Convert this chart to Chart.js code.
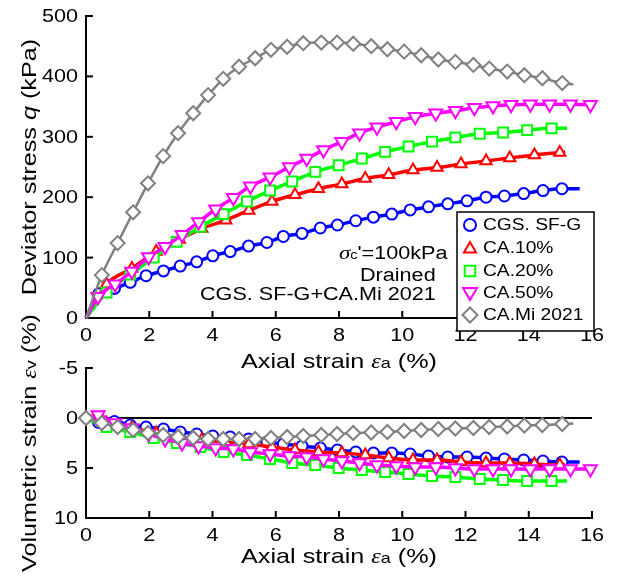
<!DOCTYPE html>
<html>
<head>
<meta charset="utf-8">
<script src="https://cdn.jsdelivr.net/npm/chart.js@4.4.1/dist/chart.umd.min.js"></script>
<style>
  html, body { margin: 0; background: #fff; }
  #wrap { position: relative; width: 617px; height: 577px; }
  canvas { position: absolute; left: 0; top: 0; }
</style>
</head>
<body>
<div id="wrap">
  <canvas id="qChart" width="617" height="577"></canvas>
  <canvas id="evChart" width="617" height="577"></canvas>
</div>
<script>
// Axial strain (%) at each marker, deviator stress q (kPa) and volumetric strain (%)
const cgsStrain = [0, 0.4, 0.9, 1.4, 1.9, 2.45, 2.98, 3.5, 4.01, 4.56, 5.14, 5.72, 6.24, 6.83, 7.41, 7.95, 8.53, 9.09, 9.67, 10.25, 10.83, 11.44, 12.05, 12.65, 13.23, 13.84, 14.45, 15.05, 15.61];
const cgsQ = [0, 40, 49, 59, 70, 78, 86, 93, 103, 110, 119, 125, 135, 140, 149, 154, 161, 167, 172, 179, 184, 189, 194, 200, 202, 206, 211, 214, 214];
const cgsEv = [0, 0.45, 0.35, 0.7, 0.9, 1.1, 1.4, 1.6, 1.8, 1.9, 2.1, 2.4, 2.6, 2.8, 3.0, 3.2, 3.4, 3.5, 3.5, 3.6, 3.8, 3.9, 3.9, 4.0, 4.1, 4.2, 4.3, 4.4, 4.4];

const ca10Strain = [0, 0.65, 1.45, 2.22, 2.95, 3.66, 4.42, 5.15, 5.88, 6.61, 7.35, 8.09, 8.83, 9.57, 10.34, 11.1, 11.86, 12.65, 13.4, 14.18, 14.98, 15.15];
const ca10Q = [0, 56, 82, 110, 130, 148, 162, 178, 193, 204, 214, 222, 231, 237, 245, 249, 255, 260, 265, 270, 274, 275];
const ca10Ev = [0, 0.5, 1.0, 1.5, 1.9, 2.2, 2.4, 2.6, 2.9, 3.2, 3.4, 3.5, 3.7, 4.0, 4.2, 4.2, 4.4, 4.5, 4.5, 4.6, 4.7, 4.7];

const ca20Strain = [0, 0.65, 1.4, 2.14, 2.87, 3.62, 4.35, 5.09, 5.82, 6.52, 7.25, 7.99, 8.72, 9.46, 10.2, 10.94, 11.68, 12.45, 13.19, 13.95, 14.72, 15.21];
const ca20Q = [0, 42, 72, 100, 126, 151, 172, 193, 211, 226, 242, 253, 264, 275, 284, 292, 299, 305, 307, 311, 314, 314];
const ca20Ev = [0, 0.9, 1.4, 2.0, 2.5, 2.9, 3.4, 3.7, 4.1, 4.5, 4.7, 5.0, 5.2, 5.4, 5.6, 5.8, 5.9, 6.1, 6.2, 6.3, 6.3, 6.3];

const ca50Strain = [0, 0.38, 0.92, 1.45, 1.98, 2.5, 3.04, 3.56, 4.1, 4.66, 5.2, 5.82, 6.43, 6.98, 7.51, 8.09, 8.65, 9.2, 9.81, 10.41, 11.06, 11.68, 12.28, 12.87, 13.44, 14.05, 14.66, 15.32, 15.95];
const ca50Q = [0, 35, 56, 77, 101, 118, 138, 159, 180, 199, 218, 233, 250, 264, 278, 292, 306, 316, 325, 333, 339, 343, 348, 351, 353, 354, 354, 354, 353];
const ca50Ev = [0, -0.3, 0.5, 1.0, 1.6, 2.1, 2.5, 2.8, 3.0, 3.1, 3.4, 3.6, 3.8, 3.9, 4.1, 4.3, 4.5, 4.7, 4.8, 4.9, 4.9, 5.0, 5.1, 5.1, 5.1, 5.1, 5.1, 5.1, 5.1];

const miStrain = [0, 0.5, 1.0, 1.49, 1.96, 2.44, 2.91, 3.39, 3.86, 4.34, 4.84, 5.35, 5.85, 6.36, 6.87, 7.44, 7.94, 8.45, 9.02, 9.53, 10.06, 10.6, 11.14, 11.68, 12.25, 12.75, 13.32, 13.86, 14.43, 15.06, 15.41];
const miQ = [0, 71, 124, 175, 223, 268, 306, 339, 369, 396, 416, 430, 444, 449, 455, 456, 456, 454, 450, 445, 441, 435, 428, 424, 419, 413, 408, 402, 397, 389, 387];
const miEv = [0, 0.5, 0.9, 1.2, 1.5, 1.7, 1.9, 2.0, 2.1, 2.1, 2.1, 2.1, 2.0, 1.9, 1.8, 1.7, 1.6, 1.5, 1.45, 1.4, 1.3, 1.2, 1.1, 1.05, 1.0, 0.9, 0.85, 0.75, 0.7, 0.6, 0.55];

const seriesNames = ['CGS. SF-G', 'CA.10%', 'CA.20%', 'CA.50%', 'CA.Mi 2021'];

// Tick labels
const strainTicks = [0, 2, 4, 6, 8, 10, 12, 14, 16];
const qTicks = [0, 100, 200, 300, 400, 500];
const evTicks = [-5, 0, 5, 10];

const SANS = '"Liberation Sans", Arial, sans-serif';
const SERIF = '"Liberation Serif", "Times New Roman", serif';
const STRETCH = 1.2; // the original lettering is a bit wide

// marker looks for each series, in legend order
const styles = [
  { color: '#0000ff', shape: 'circle',   radius: 5.5, rot: 0,   lw: 3.5 },
  { color: '#ff0000', shape: 'triangle', radius: 6.5, rot: 0,   lw: 3.5 },
  { color: '#00ff00', shape: 'rect',     radius: 7,   rot: 0,   lw: 3.5 },
  { color: '#ff00ff', shape: 'triangle', radius: 7.5, rot: 180, lw: 3.5 },
  { color: '#808080', shape: 'rectRot',  radius: 7,   rot: 0,   lw: 2.5 }
];
const hasTail = [true, true, true, false, true];
const drawOrder = [4, 3, 2, 1, 0];

function buildSets(strains, values, firstMarker) {
  return strains.map((xs, k) => {
    const st = styles[k];
    const ys = values[k];
    return {
      label: seriesNames[k],
      data: xs.map((x, i) => ({ x: x, y: ys[i] })),
      borderColor: st.color,
      borderWidth: st.lw,
      backgroundColor: '#fff',
      pointStyle: st.shape,
      pointRotation: st.rot,
      pointBorderColor: st.color,
      pointBackgroundColor: '#fff',
      pointBorderWidth: 2,
      pointRadius: ctx => {
        const i = ctx.dataIndex, n = ctx.dataset.data.length;
        if (i === 0 && !firstMarker[k]) return 0;
        if (hasTail[k] && i === n - 1) return 0;
        return st.radius;
      },
      cubicInterpolationMode: 'monotone',
      order: drawOrder[k],
      clip: false
    };
  });
}

// text with mixed fonts, stretched horizontally
function richText(ctx, parts, x, y, align, baseline, rot) {
  ctx.save();
  ctx.translate(x, y);
  if (rot) ctx.rotate(rot);
  ctx.scale(STRETCH, 1);
  ctx.fillStyle = '#000';
  ctx.textBaseline = baseline || 'alphabetic';
  ctx.textAlign = 'left';
  let w = 0;
  parts.forEach(p => { ctx.font = p.font; w += ctx.measureText(p.text).width; });
  let cx = align === 'center' ? -w / 2 : (align === 'right' ? -w : 0);
  parts.forEach(p => {
    ctx.font = p.font;
    ctx.fillText(p.text, cx, p.dy || 0);
    cx += ctx.measureText(p.text).width;
  });
  ctx.restore();
}

function drawMarker(ctx, shape, x, y, r, rot, color) {
  ctx.save();
  ctx.translate(x, y);
  ctx.rotate(rot * Math.PI / 180);
  ctx.beginPath();
  if (shape === 'circle') {
    ctx.arc(0, 0, r, 0, Math.PI * 2);
  } else if (shape === 'triangle') {
    ctx.moveTo(0, -r);
    ctx.lineTo(r * 0.866, r * 0.5);
    ctx.lineTo(-r * 0.866, r * 0.5);
    ctx.closePath();
  } else if (shape === 'rect') {
    const s = r * Math.SQRT1_2;
    ctx.rect(-s, -s, 2 * s, 2 * s);
  } else {
    ctx.moveTo(0, -r); ctx.lineTo(r, 0); ctx.lineTo(0, r); ctx.lineTo(-r, 0);
    ctx.closePath();
  }
  ctx.fillStyle = '#fff';
  ctx.fill();
  ctx.lineWidth = 2;
  ctx.strokeStyle = color;
  ctx.stroke();
  ctx.restore();
}

// inward tick marks plus tick labels
function drawAxes(chart, yTicks, yMarks, xMarks) {
  const ctx = chart.ctx;
  const xs = chart.scales.x, ys = chart.scales.y;
  const area = chart.chartArea;
  ctx.save();
  ctx.strokeStyle = '#000';
  ctx.lineWidth = 2;
  xMarks.forEach(v => {
    const px = xs.getPixelForValue(v);
    ctx.beginPath(); ctx.moveTo(px, area.bottom); ctx.lineTo(px, area.bottom - 7); ctx.stroke();
  });
  yMarks.forEach(v => {
    const py = ys.getPixelForValue(v);
    ctx.beginPath(); ctx.moveTo(area.left, py); ctx.lineTo(area.left + 7, py); ctx.stroke();
  });
  ctx.restore();
  const tickFont = '18px ' + SANS;
  strainTicks.forEach(v => {
    richText(ctx, [{ text: String(v), font: tickFont }], xs.getPixelForValue(v), area.bottom + 18, 'center', 'middle');
  });
  yTicks.forEach(v => {
    richText(ctx, [{ text: String(v), font: tickFont }], area.left - 8, ys.getPixelForValue(v) + 1, 'right', 'middle');
  });
}

function strainTitle(ctx, x, y) {
  richText(ctx, [
    { text: 'Axial strain ', font: '21px ' + SANS },
    { text: 'ε', font: 'italic 20px ' + SERIF },
    { text: 'a', font: '15px ' + SANS },
    { text: ' (%)', font: '21px ' + SANS }
  ], x, y, 'center');
}

const qDecor = {
  id: 'qDecor',
  afterDraw(chart) {
    const ctx = chart.ctx;
    const area = chart.chartArea;
    drawAxes(chart, qTicks, [100, 200, 300, 400, 500], strainTicks.slice(1));
    strainTitle(ctx, (area.left + area.right) / 2, 368);
    richText(ctx, [
      { text: 'Deviator stress ', font: '21px ' + SANS },
      { text: 'q', font: 'italic 21px ' + SANS },
      { text: ' (kPa)', font: '21px ' + SANS }
    ], 36, (area.top + area.bottom) / 2, 'center', 'alphabetic', -Math.PI / 2);

    // test conditions
    richText(ctx, [
      { text: 'σ', font: 'italic 19px ' + SERIF },
      { text: 'c', font: '12px ' + SANS },
      { text: "'=100kPa", font: '18px ' + SANS }
    ], 339, 259, 'left');
    richText(ctx, [{ text: 'Drained', font: '18px ' + SANS }], 360, 281, 'left');
    richText(ctx, [{ text: 'CGS. SF-G+CA.Mi 2021', font: '18px ' + SANS }], 200, 300, 'left');

    // legend box, drawn over the axis like the original
    ctx.save();
    ctx.fillStyle = '#fff';
    ctx.fillRect(457, 212, 137, 119);
    ctx.strokeStyle = '#000';
    ctx.lineWidth = 1.5;
    ctx.strokeRect(457, 212, 137, 119);
    ctx.restore();
    const rowY = [225, 248, 271, 293, 315];
    seriesNames.forEach((name, k) => {
      const st = styles[k];
      drawMarker(ctx, st.shape, 470, rowY[k] + (st.rot ? -1 : (st.shape === 'triangle' ? 1 : 0)), st.radius + 0.5, st.rot, st.color);
      richText(ctx, [{ text: name, font: '16px ' + SANS }], 483, rowY[k] + 1, 'left', 'middle');
    });
  }
};

const evDecor = {
  id: 'evDecor',
  beforeDatasetsDraw(chart) {
    const ctx = chart.ctx;
    const area = chart.chartArea;
    const py = chart.scales.y.getPixelForValue(0);
    ctx.save();
    ctx.strokeStyle = '#000';
    ctx.lineWidth = 2;
    ctx.beginPath(); ctx.moveTo(area.left, py); ctx.lineTo(area.right, py); ctx.stroke();
    ctx.restore();
  },
  afterDraw(chart) {
    const ctx = chart.ctx;
    const area = chart.chartArea;
    drawAxes(chart, evTicks, [-5, 5], strainTicks.slice(1));
    strainTitle(ctx, (area.left + area.right) / 2, 563);
    richText(ctx, [
      { text: 'Volumetric strain ', font: '21px ' + SANS },
      { text: 'ε', font: 'italic 20px ' + SERIF },
      { text: 'v', font: '15px ' + SANS },
      { text: ' (%)', font: '21px ' + SANS }
    ], 36, (area.top + area.bottom) / 2, 'center', 'alphabetic', -Math.PI / 2);
  }
};

function axisOpts(min, max, reverse) {
  return {
    type: 'linear', min: min, max: max, reverse: !!reverse,
    grid: { display: false, drawTicks: false },
    border: { display: true, color: '#000', width: 2 },
    ticks: { display: false }
  };
}

const strains = [cgsStrain, ca10Strain, ca20Strain, ca50Strain, miStrain];

new Chart(document.getElementById('qChart'), {
  type: 'line',
  data: { datasets: buildSets(strains, [cgsQ, ca10Q, ca20Q, ca50Q, miQ], [false, false, false, false, false]) },
  options: {
    responsive: false,
    animation: false,
    devicePixelRatio: 1,
    layout: { padding: { left: 86, top: 16, right: 25, bottom: 259 } },
    plugins: { legend: { display: false }, tooltip: { enabled: false } },
    scales: { x: axisOpts(0, 16), y: axisOpts(0, 500) }
  },
  plugins: [qDecor]
});

new Chart(document.getElementById('evChart'), {
  type: 'line',
  data: { datasets: buildSets(strains, [cgsEv, ca10Ev, ca20Ev, ca50Ev, miEv], [false, false, false, false, true]) },
  options: {
    responsive: false,
    animation: false,
    devicePixelRatio: 1,
    layout: { padding: { left: 86, top: 368, right: 25, bottom: 59 } },
    plugins: { legend: { display: false }, tooltip: { enabled: false } },
    scales: { x: axisOpts(0, 16), y: axisOpts(-5, 10, true) }
  },
  plugins: [evDecor]
});
</script>
</body>
</html>
